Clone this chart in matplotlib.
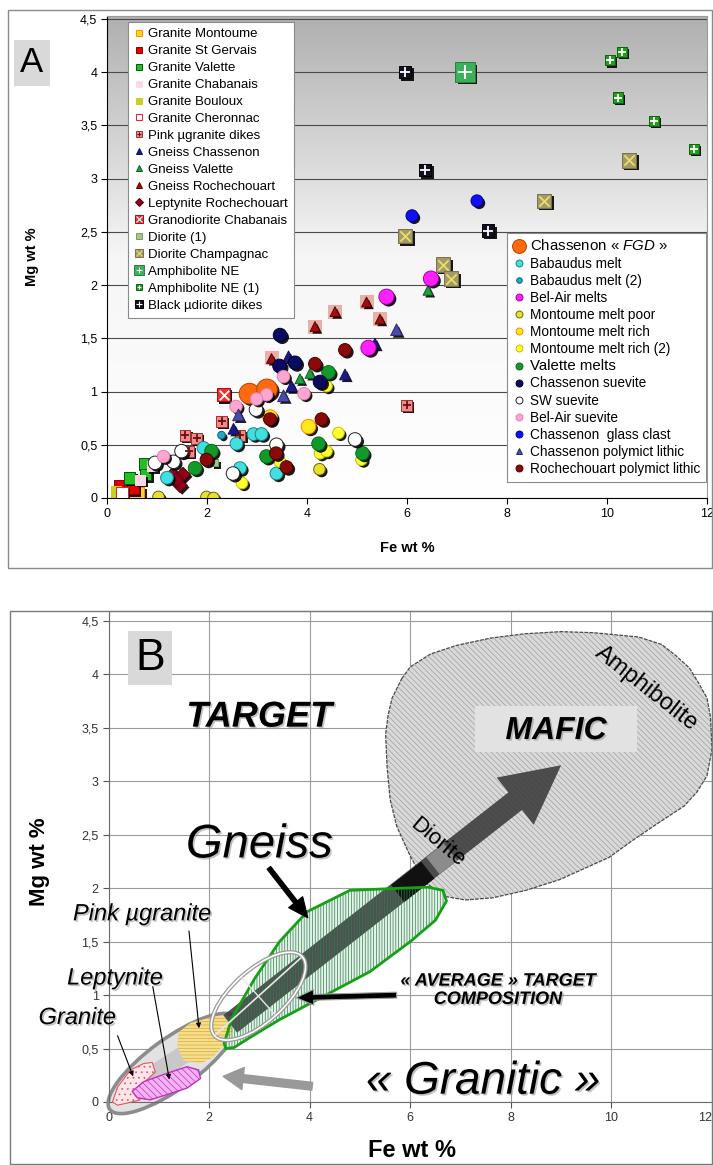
import matplotlib
matplotlib.use('Agg')
import matplotlib.pyplot as plt
import matplotlib.patheffects as pe
import matplotlib.transforms as mtransforms
from matplotlib.patches import Polygon, Ellipse, Rectangle
from matplotlib.lines import Line2D
from matplotlib.colors import LinearSegmentedColormap
from matplotlib.ticker import FuncFormatter, MultipleLocator
import numpy as np

plt.rcParams['font.family'] = ['Liberation Sans', 'DejaVu Sans']
plt.rcParams['mathtext.fontset'] = 'custom'
plt.rcParams['mathtext.it'] = 'Liberation Sans:italic'
plt.rcParams['mathtext.rm'] = 'Liberation Sans'
plt.rcParams['hatch.linewidth'] = 0.5

# ---------------- Panel A data (Fe wt %, Mg wt %) ----------------
granite_montoume_fe = [0.23, 0.59]
granite_montoume_mg = [0.04, 0.03]
granite_stgervais_fe = [0.26, 0.46, 0.52]
granite_stgervais_mg = [0.11, 0.16, 0.09]
granite_valette_fe = [0.75, 0.77, 0.45]
granite_valette_mg = [0.32, 0.22, 0.19]
granite_chabanais_fe = [0.66, 0.90]
granite_chabanais_mg = [0.17, 0.30]
granite_bouloux_fe = [0.18]
granite_bouloux_mg = [0.06]
granite_cheronnac_fe = [0.30]
granite_cheronnac_mg = [0.05]
pink_dikes_fe = [1.56, 1.79, 1.63, 2.29, 2.66, 5.99]
pink_dikes_mg = [0.59, 0.56, 0.44, 0.72, 0.59, 0.87]
gneiss_chassenon_fe = [3.63, 3.69, 4.76, 5.36, 2.53]
gneiss_chassenon_mg = [1.33, 1.05, 1.16, 1.45, 0.65]
gneiss_valette_fe = [3.86, 4.06, 6.42]
gneiss_valette_mg = [1.12, 1.17, 1.95]
gneiss_roch_fe = [5.19, 4.56, 4.16, 5.46, 3.29]
gneiss_roch_mg = [1.84, 1.75, 1.61, 1.68, 1.31]
leptynite_fe = [1.32, 1.52, 1.46, 1.39]
leptynite_mg = [0.22, 0.22, 0.12, 0.17]
granodiorite_fe = [2.33]
granodiorite_mg = [0.97]
diorite1_fe = [2.16]
diorite1_mg = [0.33]
diorite_champ_fe = [5.96, 8.74, 10.44, 6.72, 6.88]
diorite_champ_mg = [2.46, 2.79, 3.17, 2.19, 2.06]
amph_ne_fe = [7.16]
amph_ne_mg = [4.00]
amph_ne1_fe = [10.06, 10.30, 10.22, 10.94, 11.74]
amph_ne1_mg = [4.11, 4.19, 3.76, 3.54, 3.28]
black_dikes_fe = [5.96, 6.36, 7.62]
black_dikes_mg = [4.00, 3.08, 2.51]

fgd_fe = [2.85, 3.20]
fgd_mg = [0.98, 1.02]
babaudus_fe = [2.93, 3.09, 2.59, 2.66, 3.39, 1.20, 1.93]
babaudus_mg = [0.60, 0.60, 0.51, 0.28, 0.23, 0.19, 0.47]
babaudus2_fe = [2.29]
babaudus2_mg = [0.59]
belair_melt_fe = [5.59, 5.23, 6.48]
belair_melt_mg = [1.89, 1.41, 2.06]
mont_poor_fe = [1.03, 1.99, 2.13, 4.25]
mont_poor_mg = [0.01, 0.01, 0.00, 0.27]
mont_rich_fe = [3.26, 4.03]
mont_rich_mg = [0.76, 0.67]
mont_rich2_fe = [4.39, 4.63, 4.26, 4.39, 5.09, 3.46, 2.70]
mont_rich2_mg = [1.05, 0.61, 0.42, 0.44, 0.36, 0.34, 0.14]
valette_melt_fe = [4.43, 4.23, 5.11, 3.19, 1.76, 2.09]
valette_melt_mg = [1.18, 0.51, 0.42, 0.39, 0.28, 0.44]
chas_suevite_fe = [3.46, 3.45, 3.76, 4.26]
chas_suevite_mg = [1.53, 1.24, 1.27, 1.09]
sw_suevite_fe = [2.98, 3.39, 4.96, 2.52, 1.33, 0.96, 1.49]
sw_suevite_mg = [0.83, 0.50, 0.55, 0.23, 0.34, 0.33, 0.44]
belair_suevite_fe = [3.53, 3.19, 2.99, 2.58, 3.94, 1.13]
belair_suevite_mg = [1.14, 0.97, 0.93, 0.86, 0.98, 0.39]
glass_clast_fe = [6.10, 7.40]
glass_clast_mg = [2.65, 2.79]
chas_polymict_fe = [5.79, 3.53, 2.63]
chas_polymict_mg = [1.58, 0.96, 0.78]
roch_polymict_fe = [4.76, 4.16, 4.29, 3.26, 3.59, 3.38, 1.99]
roch_polymict_mg = [1.39, 1.26, 0.74, 0.74, 0.29, 0.42, 0.36]

# ---------------- Panel B field outlines (Fe wt %, Mg wt %) ----------------
mafic_fe = [5.83, 6.00, 6.40, 6.91, 7.60, 8.28, 9.00, 9.64, 10.54, 11.00, 11.27, 11.55, 11.72,
            11.90, 11.97, 12.0, 11.9, 11.70, 11.45, 10.9, 10.4, 9.96, 8.97, 8.30, 7.64, 7.10,
            6.72, 6.30, 6.00, 5.73, 5.60, 5.54, 5.51, 5.56, 5.64]
mafic_mg = [3.96, 4.07, 4.19, 4.27, 4.34, 4.38, 4.40, 4.39, 4.35, 4.28, 4.18, 4.06, 3.93,
            3.78, 3.60, 3.30, 3.05, 2.90, 2.77, 2.60, 2.44, 2.29, 2.08, 1.98, 1.91, 1.89,
            1.92, 2.05, 2.30, 2.58, 2.83, 3.13, 3.44, 3.62, 3.78]
gneiss_fe = [2.30, 2.45, 2.90, 3.40, 3.95, 4.80, 6.35, 6.65, 6.72, 6.50, 6.00, 5.20, 4.20,
             3.40, 2.80, 2.50, 2.33]
gneiss_mg = [0.55, 0.78, 1.15, 1.50, 1.78, 1.98, 2.01, 1.98, 1.88, 1.70, 1.50, 1.22, 0.97,
             0.77, 0.60, 0.51, 0.50]
pinkgr_fe = [1.39, 1.63, 2.02, 2.28, 2.48, 2.38, 2.08, 1.83, 1.49, 1.37]
pinkgr_mg = [0.65, 0.74, 0.79, 0.81, 0.67, 0.58, 0.42, 0.36, 0.39, 0.52]
lepty_fe = [0.47, 0.70, 1.17, 1.56, 1.79, 1.83, 1.56, 1.17, 0.83, 0.57]
lepty_mg = [0.10, 0.19, 0.27, 0.33, 0.30, 0.22, 0.13, 0.07, 0.02, 0.04]
granite_fe = [0.08, 0.18, 0.44, 0.70, 0.87, 0.93, 0.77, 0.50, 0.63, 0.37, 0.18]
granite_mg = [0.00, 0.14, 0.30, 0.36, 0.37, 0.28, 0.21, 0.10, 0.02, -0.01, -0.03]

fe_ticks = [0, 2, 4, 6, 8, 10, 12]

W, H = 713, 1165
fig = plt.figure(figsize=(W / 100, H / 100), dpi=100)


def fx(px):
    return px / W


def fy(py):
    return 1 - py / H


comma = FuncFormatter(lambda v, p: f'{v:g}'.replace('.', ','))

# panel frames
fig.add_artist(Rectangle((fx(8), fy(568)), 704 / W, 558 / H, transform=fig.transFigure,
                         fill=False, ec='#8a8a8a', lw=1))
fig.add_artist(Rectangle((fx(10), fy(1164)), 702 / W, 553 / H, transform=fig.transFigure,
                         fill=False, ec='#7a7a7a', lw=1))

# ======================= Panel A =======================
axA = fig.add_axes([fx(107), fy(498), 600 / W, 482 / H])
grad = np.linspace(1, 0, 256).reshape(-1, 1)
cmap = LinearSegmentedColormap.from_list('g', ['#ffffff', '#f6f6f6', '#b0b0b0'])
axA.imshow(grad, extent=(0, 1, 0, 1), transform=axA.transAxes, aspect='auto',
           cmap=cmap, vmin=0, vmax=1, zorder=-1)
axA.set_xlim(0, 12)
axA.set_ylim(0, 4.526)
axA.set_xticks(fe_ticks)
axA.yaxis.set_major_locator(MultipleLocator(0.5))
axA.yaxis.set_major_formatter(comma)
axA.tick_params(labelsize=9, length=4, direction='out', pad=3)
axA.yaxis.grid(True, color='#4a4a4a', lw=0.8)
for s in ['top', 'right']:
    axA.spines[s].set_color('#9a9a9a')
axA.set_xlabel('Fe wt %', fontsize=10.5, fontweight='bold', va='center')
axA.xaxis.set_label_coords(0.5, -0.104)
axA.set_ylabel('Mg wt %', fontsize=10.5, fontweight='bold', va='center')
axA.yaxis.set_label_coords(-0.125, 0.50)
fig.text(fx(32), fy(63), 'A', fontsize=25, ha='center', va='center',
         bbox=dict(boxstyle='square,pad=0.18', fc='#d9d9d9', ec='none'))

shadow = [pe.SimplePatchShadow(offset=(1.6, -1.6), shadow_rgbFace='black', alpha=0.9),
          pe.Normal()]

# label, fe, mg, marker, size, face, edge, overlay, overlay colour, legend size
series1 = [
    ('Granite Montoume', granite_montoume_fe, granite_montoume_mg, 's', 130, '#FFD21F', '#FF8C00', None, None, 5),
    ('Granite St Gervais', granite_stgervais_fe, granite_stgervais_mg, 's', 75, '#E00000', '#8a0000', None, None, 5),
    ('Granite Valette', granite_valette_fe, granite_valette_mg, 's', 70, '#22C022', '#005a00', None, None, 5),
    ('Granite Chabanais', granite_chabanais_fe, granite_chabanais_mg, 's', 60, '#FFD6E6', '#FFD6E6', None, None, 5),
    ('Granite Bouloux', granite_bouloux_fe, granite_bouloux_mg, 's', 60, '#C8D020', '#C8D020', None, None, 5),
    ('Granite Cheronnac', granite_cheronnac_fe, granite_cheronnac_mg, 's', 65, 'white', '#E02020', None, None, 5),
    ('Pink µgranite dikes', pink_dikes_fe, pink_dikes_mg, 's', 60, '#F08C8C', '#a03030', '+', '#6a1010', 4.5),
    ('Gneiss Chassenon', gneiss_chassenon_fe, gneiss_chassenon_mg, '^', 60, '#1A1A8C', '#10105a', None, None, 5),
    ('Gneiss Valette', gneiss_valette_fe, gneiss_valette_mg, '^', 50, '#1E9E3C', '#0e5e20', None, None, 5),
    ('Gneiss Rochechouart', gneiss_roch_fe, gneiss_roch_mg, '^', 50, '#A01010', '#600000', None, None, 5),
    ('Leptynite Rochechouart', leptynite_fe, leptynite_mg, 'D', 55, '#900018', '#500010', None, None, 4.5),
    ('Granodiorite Chabanais', granodiorite_fe, granodiorite_mg, 's', 95, '#F03030', '#a01010', 'x', 'white', 6),
    ('Diorite (1)', diorite1_fe, diorite1_mg, 's', 25, '#A6C68C', '#7a9a60', None, None, 4),
    ('Diorite Champagnac', diorite_champ_fe, diorite_champ_mg, 's', 110, '#A39A6A', '#7a7050', 'x', '#E8E060', 6),
    ('Amphibolite NE', amph_ne_fe, amph_ne_mg, 's', 190, '#3CAF5A', '#2a8040', '+', 'white', 6.5),
    ('Amphibolite NE (1)', amph_ne1_fe, amph_ne1_mg, 's', 55, '#1EA01E', '#0e600e', '+', 'white', 4),
    ('Black µdiorite dikes', black_dikes_fe, black_dikes_mg, 's', 85, '#101020', '#000000', '+', 'white', 5.5),
]
series2 = [
    ('Chassenon « $\\it{FGD}$ »', fgd_fe, fgd_mg, 'o', 220, '#FF6A10', '#C04000', None, None, 10),
    ('Babaudus melt', babaudus_fe, babaudus_mg, 'o', 85, '#40E0E0', '#208080', None, None, 5),
    ('Babaudus melt (2)', babaudus2_fe, babaudus2_mg, 'o', 30, '#20A8C8', '#106080', None, None, 4),
    ('Bel-Air melts', belair_melt_fe, belair_melt_mg, 'o', 120, '#FF20FF', '#a000a0', None, None, 5),
    ('Montoume melt poor', mont_poor_fe, mont_poor_mg, 'o', 70, '#E8E030', '#6a6a00', None, None, 5),
    ('Montoume melt rich', mont_rich_fe, mont_rich_mg, 'o', 110, '#FFE81A', '#FF8800', None, None, 5),
    ('Montoume melt rich (2)', mont_rich2_fe, mont_rich2_mg, 'o', 70, '#FFFF30', '#c0c000', None, None, 5),
    ('Valette melts', valette_melt_fe, valette_melt_mg, 'o', 95, '#119A2A', '#0a6a1a', None, None, 5),
    ('Chassenon suevite', chas_suevite_fe, chas_suevite_mg, 'o', 95, '#0A0A60', '#000030', None, None, 5),
    ('SW suevite', sw_suevite_fe, sw_suevite_mg, 'o', 95, 'white', '#202020', None, None, 5),
    ('Bel-Air suevite', belair_suevite_fe, belair_suevite_mg, 'o', 80, '#FFA6D0', '#e080b0', None, None, 5),
    ('Chassenon  glass clast', glass_clast_fe, glass_clast_mg, 'o', 75, '#1010F0', '#0000a0', None, None, 5),
    ('Chassenon polymict lithic', chas_polymict_fe, chas_polymict_mg, '^', 70, '#4A4AA8', '#2a2a70', None, None, 5),
    ('Rochechouart polymict lithic', roch_polymict_fe, roch_polymict_mg, 'o', 85, '#8A0A0A', '#500000', None, None, 5),
]

# halo behind Rochechouart gneiss triangles
axA.scatter(gneiss_roch_fe, gneiss_roch_mg, s=90, marker='s', c='#E8B0A8', linewidths=0, zorder=2.8)


def legend_handle(mk, fc, ec, ms, ov, oc):
    h = Line2D([], [], ls='none', marker=mk, mfc=fc, mec=ec, ms=ms, mew=0.7)
    if ov:
        return (h, Line2D([], [], ls='none', marker=ov, color=oc, ms=ms * 0.75, mew=0.8))
    return h


handles1, handles2 = [], []
for group, handles in [(series1, handles1), (series2, handles2)]:
    for lab, fe, mg, mk, s, fc, ec, ov, oc, ms in group:
        axA.scatter(fe, mg, s=s, marker=mk, c=fc, edgecolors=ec, linewidths=0.7,
                    zorder=3, path_effects=shadow)
        if ov:
            axA.scatter(fe, mg, s=s * 0.5, marker=ov, color=oc, linewidths=1.3, zorder=3.1)
        handles.append(legend_handle(mk, fc, ec, ms, ov, oc))

leg1 = axA.legend(handles1, [g[0] for g in series1], loc='upper left',
                  bbox_to_anchor=(fx(128), fy(22)), bbox_transform=fig.transFigure,
                  borderaxespad=0, fontsize=9.5, labelspacing=0.36, handlelength=0.8,
                  handletextpad=0.3, borderpad=0.45, fancybox=False, framealpha=1,
                  edgecolor='#8a8a8a')
leg1.get_frame().set_linewidth(0.8)
axA.add_artist(leg1)
leg2 = axA.legend(handles2, [g[0] for g in series2], loc='upper left',
                  bbox_to_anchor=(fx(507), fy(233)), bbox_transform=fig.transFigure,
                  borderaxespad=0, fontsize=9.8, labelspacing=0.23, handlelength=1.0,
                  handletextpad=0.3, borderpad=0.4, fancybox=False, framealpha=1,
                  edgecolor='#8a8a8a')
leg2.get_frame().set_linewidth(0.8)
leg2.get_texts()[0].set_fontsize(10.8)
leg2.get_texts()[7].set_fontsize(10.8)

# ======================= Panel B =======================
axB = fig.add_axes([fx(108.5), fy(1102), 603.5 / W, 491 / H])
axB.set_xlim(0, 12)
axB.set_ylim(0, 4.593)
axB.set_xticks(fe_ticks)
axB.yaxis.set_major_locator(MultipleLocator(0.5))
axB.yaxis.set_major_formatter(comma)
axB.tick_params(labelsize=9, length=4, direction='out', pad=3, colors='#555555',
                labelcolor='#333333')
axB.grid(True, color='#9a9a9a', lw=0.8)
axB.set_axisbelow(True)
for s in axB.spines.values():
    s.set_color('#6a6a6a')
axB.xaxis.get_major_ticks()[-1].label1.set_horizontalalignment('right')
axB.set_xlabel('Fe wt %', fontsize=17, fontweight='bold', va='center')
axB.xaxis.set_label_coords(0.503, -0.098)
axB.set_ylabel('Mg wt %', fontsize=16, fontweight='bold', va='center')
axB.yaxis.set_label_coords(-0.114, 0.49)
fig.text(fx(150), fy(658), 'B', fontsize=32, ha='center', va='center',
         bbox=dict(boxstyle='square,pad=0.15', fc='#d9d9d9', ec='none'))


def px_transform(ax, center, angle):
    cx, cy = ax.transData.transform(center)
    return mtransforms.Affine2D().rotate_deg(angle).translate(cx, cy)


# mafic field
mafic_xy = np.column_stack([mafic_fe, mafic_mg])
axB.add_patch(Polygon(mafic_xy, closed=True, fc='#d9d9d9', ec='none', zorder=2))
axB.add_patch(Polygon(mafic_xy, closed=True, fill=False, hatch='\\' * 6, ec='#a0a0a0',
                      lw=0, zorder=2.05))
axB.add_patch(Polygon(mafic_xy, closed=True, fill=False, ec='#4a4a4a', lw=0.9,
                      ls=(0, (3, 1)), zorder=2.1))

# granitic ellipse
tr = px_transform(axB, (1.28, 0.36), 36)
axB.add_patch(Ellipse((0, 0), 156, 50, transform=tr, fc='#e2e2e2', ec='#8c8c8c', lw=2.6,
                      zorder=2.2, clip_on=False))
axB.plot([0.45, 2.42], [0.12, 0.73], color='#c8c8c8', lw=13, solid_capstyle='butt',
         zorder=2.3)

# gneiss field (fill, arrow, hatch)
gneiss_xy = np.column_stack([gneiss_fe, gneiss_mg])
axB.add_patch(Polygon(gneiss_xy, closed=True, fc='#e4f2e8', ec='none', zorder=2.4))

axB.annotate('', xy=(9.0, 3.15), xytext=(2.42, 0.73),
             arrowprops=dict(arrowstyle='simple,head_length=1.05,head_width=1.08,tail_width=0.4',
                             mutation_scale=40, fc='#3a3a3a', ec='none', alpha=0.88,
                             shrinkA=0, shrinkB=0), zorder=3)
axB.plot([5.75, 6.35], [1.95, 2.17], color='#111111', lw=15.5, solid_capstyle='butt',
         zorder=3.05)
axB.plot([6.45, 6.80], [2.21, 2.34], color='#8c8c8c', lw=15.5, solid_capstyle='butt',
         zorder=3.05)

axB.add_patch(Polygon(gneiss_xy, closed=True, fill=False, hatch='|' * 6, ec='#2F7F50',
                      lw=0, zorder=3.5))
axB.add_patch(Polygon(gneiss_xy, closed=True, fill=False, ec='#16A016', lw=2,
                      zorder=3.6))

# small granitoid fields
pink_field = Polygon(np.column_stack([pinkgr_fe, pinkgr_mg]), closed=True, fc='#F6DE8A',
                     ec='#D8A840', lw=0, hatch='-' * 5, zorder=2.6)
axB.add_patch(pink_field)
axB.add_patch(Polygon(np.column_stack([lepty_fe, lepty_mg]), closed=True, fc='#F4B4F4',
                      ec='#C030C0', hatch='\\' * 5, lw=1, zorder=2.7))
axB.add_patch(Polygon(np.column_stack([granite_fe, granite_mg]), closed=True, fc='#FDE6EA',
                      ec='#E85060', hatch='...', lw=0.8, zorder=2.6, clip_on=False))

# "average" target composition ellipse
tr = px_transform(axB, (2.98, 0.99), 42)
axB.add_patch(Ellipse((0, 0), 118, 52, transform=tr, fill=False, ec='#9a9a9a', lw=3,
                      zorder=5))
axB.add_patch(Ellipse((0, 0), 118, 52, transform=tr, fill=False, ec='white', lw=1.2,
                      zorder=5.1))
axB.add_line(Line2D([-57, 57], [0, 0], transform=tr, color='#e8e8e8', lw=1.2, zorder=5))
axB.add_line(Line2D([0, 0], [-24, 24], transform=tr, color='#e8e8e8', lw=1.0, zorder=5))

# annotation arrows
axB.annotate('', xy=(3.96, 1.725), xytext=(3.19, 2.19),
             arrowprops=dict(arrowstyle='simple,head_length=1.0,head_width=0.9,tail_width=0.22',
                             mutation_scale=14, fc='black', ec='black', shrinkA=0, shrinkB=0),
             zorder=6)
axB.annotate('', xy=(3.73, 0.975), xytext=(5.73, 1.0),
             arrowprops=dict(arrowstyle='simple,head_length=0.9,head_width=0.8,tail_width=0.3',
                             mutation_scale=14, fc='black', ec='#a0a0a0', lw=0.8,
                             shrinkA=0, shrinkB=0), zorder=6)
axB.annotate('', xy=(2.28, 0.24), xytext=(4.05, 0.147),
             arrowprops=dict(arrowstyle='simple,head_length=0.9,head_width=1.0,tail_width=0.35',
                             mutation_scale=16, fc='#999999', ec='#999999',
                             shrinkA=0, shrinkB=0), zorder=6)
for (x0, y0), (x1, y1) in [((1.60, 1.60), (1.80, 0.69)),
                           ((0.88, 1.08), (1.21, 0.21)),
                           ((0.18, 0.62), (0.49, 0.24))]:
    axB.annotate('', xy=(x1, y1), xytext=(x0, y0),
                 arrowprops=dict(arrowstyle='-|>', lw=0.8, color='black', mutation_scale=7,
                                 shrinkA=0, shrinkB=0), zorder=6)

# labels
glow = [pe.withSimplePatchShadow(offset=(1.2, -1.2), shadow_rgbFace='#888888', alpha=0.5)]
axB.add_patch(Rectangle((7.28, 3.27), 3.22, 0.43, fc='#e2e2e2', ec='none', zorder=4))
axB.text(8.9, 3.47, 'MAFIC', fontsize=23, fontweight='bold', style='italic', ha='center',
         va='center', zorder=6, path_effects=glow)
axB.text(3.0, 3.6, 'TARGET', fontsize=26, fontweight='bold', style='italic', ha='center',
         va='center', zorder=6, path_effects=glow)
axB.text(10.7, 3.87, 'Amphibolite', fontsize=17, rotation=-38, ha='center', va='center',
         rotation_mode='anchor', zorder=6)
axB.text(6.53, 2.43, 'Diorite', fontsize=16, rotation=-40, ha='center', va='center',
         rotation_mode='anchor', zorder=6)
axB.text(3.0, 2.4, 'Gneiss', fontsize=34, style='italic', ha='center', va='center',
         zorder=6, path_effects=glow)
axB.text(0.67, 1.76, 'Pink µgranite', fontsize=17, style='italic', ha='center', va='center',
         zorder=6, path_effects=glow)
axB.text(0.13, 1.16, 'Leptynite', fontsize=17, style='italic', ha='center', va='center',
         zorder=6, path_effects=glow)
axB.text(-0.62, 0.79, 'Granite', fontsize=17, style='italic', ha='center', va='center',
         zorder=6, path_effects=glow)
axB.text(7.74, 1.045, '« AVERAGE » TARGET\nCOMPOSITION', fontsize=13, fontweight='bold',
         style='italic', ha='center', va='center', linespacing=1.1, zorder=6,
         path_effects=glow)
axB.text(7.45, 0.19, '« Granitic »', fontsize=33, style='italic', ha='center',
         va='center', zorder=6, path_effects=glow)

fig.savefig('out.png', dpi=100)
